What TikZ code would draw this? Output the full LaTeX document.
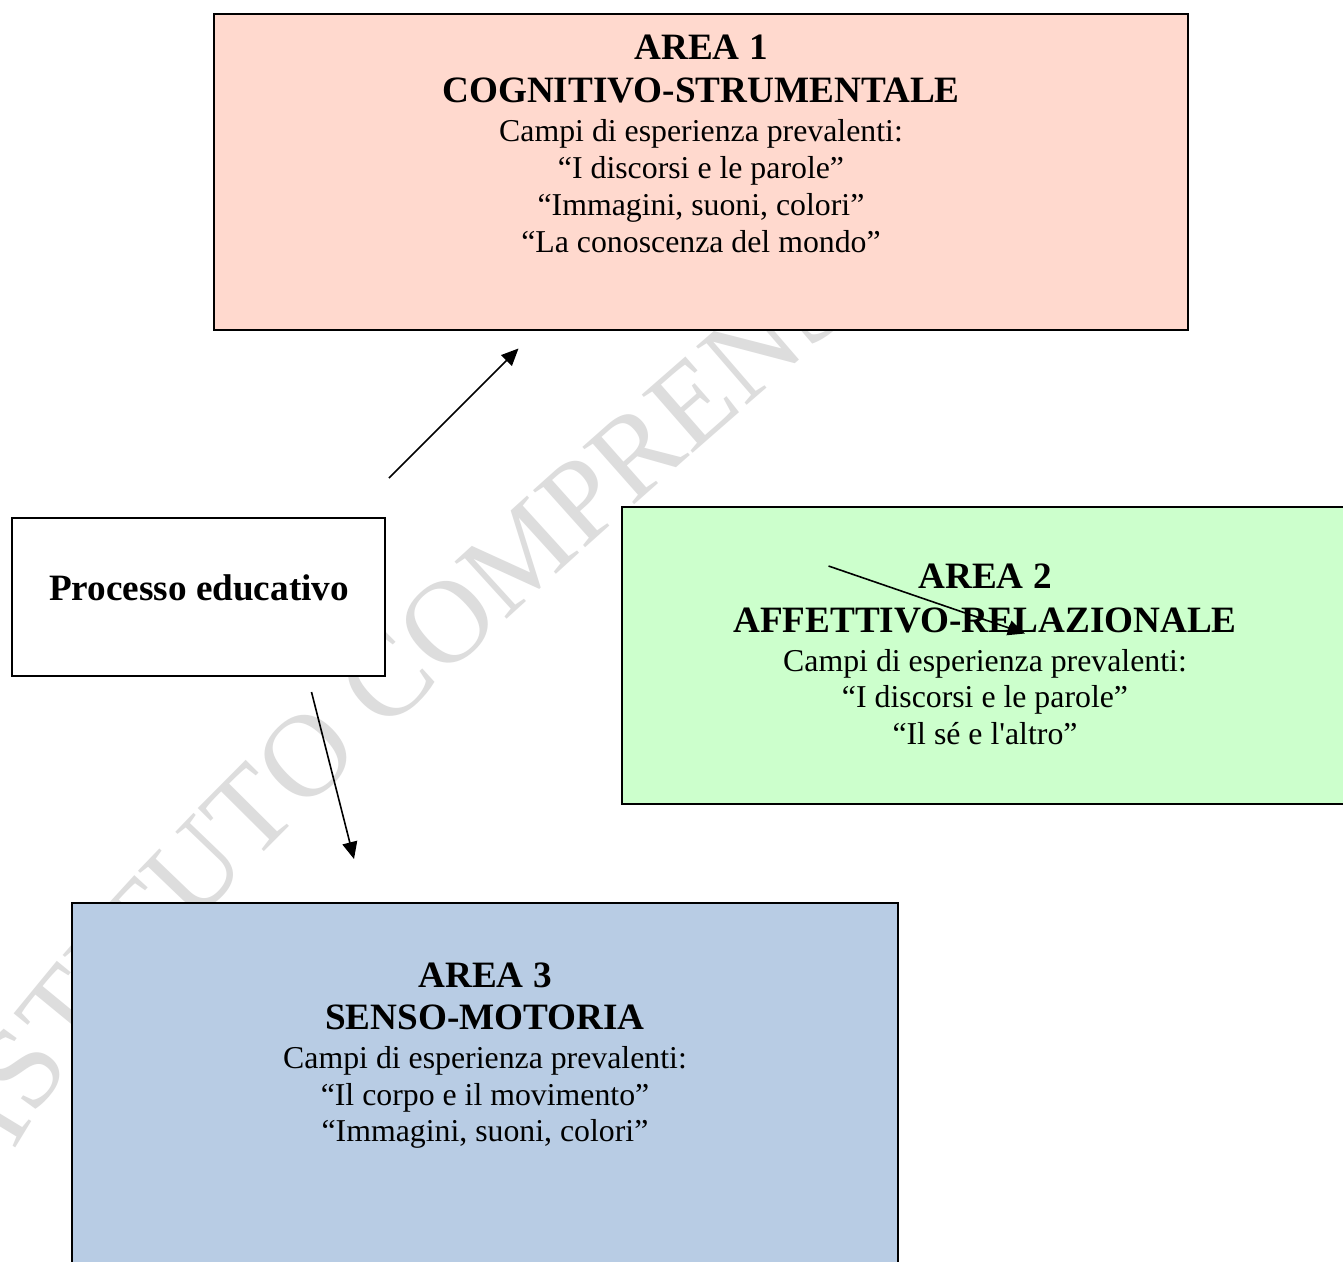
\documentclass[tikz,border=0pt]{standalone}
\usepackage{fontspec}
\setmainfont{Liberation Serif}[Ligatures=TeXOff]
\usetikzlibrary{arrows.meta,decorations.text,calc}
\definecolor{rosa}{RGB}{255,217,206}
\definecolor{verde}{RGB}{204,255,204}
\definecolor{azzurro}{RGB}{184,204,228}
\definecolor{filigrana}{RGB}{221,221,221}
\newcommand{\mytitlefont}{\fontsize{37.2}{43}\selectfont\bfseries}
\newcommand{\mybodyfont}{\fontsize{31.8}{36.6}\selectfont}
\newcommand{\mywmfont}{\fontsize{118}{118}\selectfont}
\begin{document}
\begin{tikzpicture}[x=1pt,y=-1pt,
  areabox/.style={draw=black, line width=1.8pt, inner sep=0pt, outer sep=0pt},
  titletext/.style={anchor=base, font=\mytitlefont, inner sep=0pt},
  bodytext/.style={anchor=base, font=\mybodyfont, inner sep=0pt},
  connector/.style={line width=1.6pt, -{Triangle[length=17pt,width=15pt]}}]
\useasboundingbox (0,0) rectangle (1343,1261);
\clip (0,0) rectangle (1343,1261);
\fill[white] (0,0) rectangle (1343,1261);

% watermark
\path[decorate, decoration={text along path, text color=filigrana,
   text={|\mywmfont|ISTITUTO COMPRENSIVO}, text align=left}]
   (14,1152) .. controls (148,905) and (880,282) .. (1120,95);

% boxes
\node[areabox, fill=rosa, minimum width=974pt, minimum height=316pt] (area1) at (701,172) {};
\node[areabox, fill=verde, minimum width=726pt, minimum height=297pt] (area2) at (985,655.5) {};
\node[areabox, fill=azzurro, minimum width=826pt, minimum height=390pt] (area3) at (485,1098) {};
\node[areabox, fill=white, minimum width=373pt, minimum height=158pt] (proc) at (198.5,597) {};

% texts box 1
\node[titletext] (a1l1) at (701,59) {AREA 1};
\node[titletext] (a1l2) at (701,102) {COGNITIVO-STRUMENTALE};
\node[bodytext] (a1l3) at (701,141.5) {Campi di esperienza prevalenti:};
\node[bodytext] (a1l4) at (701,178) {“I discorsi e le parole”};
\node[bodytext] (a1l5) at (701,215) {“Immagini, suoni, colori”};
\node[bodytext] (a1l6) at (701,252) {“La conoscenza del mondo”};

% texts box 2
\node[titletext] (a2l1) at (985,588) {AREA 2};
\node[titletext] (a2l2) at (985,632) {AFFETTIVO-RELAZIONALE};
\node[bodytext] (a2l3) at (985,671) {Campi di esperienza prevalenti:};
\node[bodytext] (a2l4) at (985,707.5) {“I discorsi e le parole”};
\node[bodytext] (a2l5) at (985,744) {“Il sé e l'altro”};

% texts box 3
\node[titletext] (a3l1) at (485,987) {AREA 3};
\node[titletext] (a3l2) at (485,1029) {SENSO-MOTORIA};
\node[bodytext] (a3l3) at (485,1068) {Campi di esperienza prevalenti:};
\node[bodytext] (a3l4) at (485,1105) {“Il corpo e il movimento”};
\node[bodytext] (a3l5) at (485,1141.5) {“Immagini, suoni, colori”};

% processo educativo
\node[titletext] (proct) at (199,600) {Processo educativo};

% connectors
\coordinate (c1s) at (389,478);
\coordinate (c1e) at (518.5,348.5);
\coordinate (c2s) at (828.5,566);
\coordinate (c2e) at (1025,633.5);
\coordinate (c3s) at (311.5,692);
\coordinate (c3e) at (354,859);
\draw[connector] (c1s) -- (c1e);
\draw[connector] (c2s) -- (c2e);
\draw[connector] (c3s) -- (c3e);
\end{tikzpicture}
\end{document}
